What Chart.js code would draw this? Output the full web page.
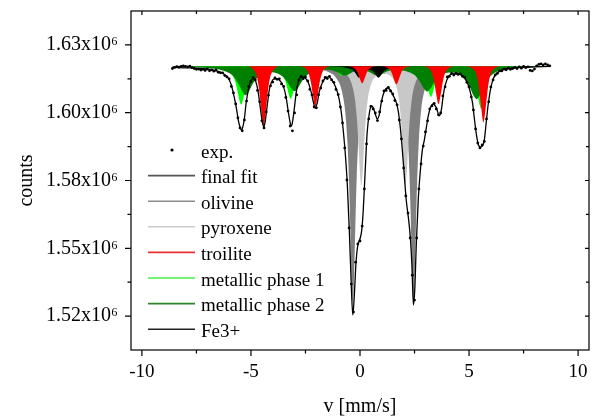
<!DOCTYPE html>
<html>
<head>
<meta charset="utf-8">
<script src="https://cdn.jsdelivr.net/npm/chart.js@4.4.0/dist/chart.umd.min.js"></script>
<style>
html, body { margin: 0; padding: 0; background: #fff; }
</style>
</head>
<body>
<canvas id="myChart" width="598" height="419"></canvas>
<script>
// counts are given in units of 10^6
var baseline = 1.6171;

var velTicks = [-10, -5, 0, 5, 10];
var velMinor = [-7.5, -2.5, 2.5, 7.5];
var countTicks = [1.525, 1.55, 1.575, 1.6, 1.625];
var countTickLabels = ['1.52', '1.55', '1.58', '1.60', '1.63'];
var countMinor = [1.5375, 1.5625, 1.5875, 1.6125];

var expV = [-8.6,-8.5,-8.4,-8.3,-8.2,-8.1,-8.0,-7.9,-7.8,-7.7,
  -7.6,-7.5,-7.4,-7.3,-7.2,-7.1,-7.0,-6.9,-6.8,-6.7,
  -6.6,-6.5,-6.4,-6.3,-6.2,-6.1,-6.0,-5.9,-5.8,-5.7,
  -5.6,-5.5,-5.4,-5.3,-5.2,-5.1,-5.0,-4.9,-4.8,-4.7,
  -4.6,-4.5,-4.4,-4.3,-4.2,-4.1,-4.0,-3.9,-3.8,-3.7,
  -3.6,-3.5,-3.4,-3.3,-3.2,-3.1,-3.0,-2.9,-2.8,-2.7,
  -2.6,-2.5,-2.4,-2.3,-2.2,-2.1,-2.0,-1.9,-1.8,-1.7,
  -1.6,-1.5,-1.4,-1.3,-1.2,-1.1,-1.0,-0.9,-0.8,-0.7,
  -0.6,-0.5,-0.4,-0.3,-0.2,-0.1,0.0,0.1,0.2,0.3,
  0.4,0.5,0.6,0.7,0.8,0.9,1.0,1.1,1.2,1.3,
  1.4,1.5,1.6,1.7,1.8,1.9,2.0,2.1,2.2,2.3,
  2.4,2.5,2.6,2.7,2.8,2.9,3.0,3.1,3.2,3.3,
  3.4,3.5,3.6,3.7,3.8,3.9,4.0,4.1,4.2,4.3,
  4.4,4.5,4.6,4.7,4.8,4.9,5.0,5.1,5.2,5.3,
  5.4,5.5,5.6,5.7,5.8,5.9,6.0,6.1,6.2,6.3,
  6.4,6.5,6.6,6.7,6.8,6.9,7.0,7.1,7.2,7.3,
  7.4,7.5,7.6,7.7,7.8,7.9,8.0,8.1,8.2,8.3,
  8.4,8.5,8.6,8.7];
var expC = [1.6163,1.6167,1.6170,1.6168,1.6171,1.6173,1.6171,1.6169,1.6172,1.6166,
  1.6163,1.6160,1.6161,1.6157,1.6160,1.6156,1.6161,1.6155,1.6158,1.6153,
  1.6157,1.6149,1.6147,1.6147,1.6137,1.6132,1.6125,1.6097,1.6073,1.6032,
  1.5981,1.5944,1.5933,1.5973,1.6043,1.6097,1.6115,1.6130,1.6121,1.6082,
  1.6040,1.5970,1.5944,1.6003,1.6064,1.6099,1.6113,1.6128,1.6123,1.6125,
  1.6106,1.6097,1.6056,1.6006,1.5951,1.5933,1.5999,1.6066,1.6121,1.6134,
  1.6126,1.6132,1.6117,1.6086,1.6066,1.6021,1.6018,1.6066,1.6091,1.6117,
  1.6130,1.6126,1.6134,1.6121,1.6112,1.6086,1.6067,1.6021,1.5962,1.5870,
  1.5752,1.5575,1.5368,1.5265,1.5449,1.5516,1.5527,1.5582,1.5719,1.5885,
  1.5977,1.6023,1.6014,1.5999,1.5971,1.6003,1.6043,1.6080,1.6082,1.6093,
  1.6080,1.6069,1.6045,1.6029,1.5973,1.5903,1.5796,1.5693,1.5630,1.5538,
  1.5401,1.5309,1.5538,1.5719,1.5811,1.5877,1.5929,1.5970,1.6014,1.6025,
  1.6034,1.6014,1.5992,1.5999,1.6062,1.6095,1.6132,1.6134,1.6145,1.6139,
  1.6145,1.6141,1.6143,1.6134,1.6130,1.6112,1.6095,1.6058,1.6010,1.5940,
  1.5888,1.5870,1.5881,1.5894,1.5977,1.6040,1.6095,1.6121,1.6139,1.6145,
  1.6154,1.6154,1.6161,1.6158,1.6165,1.6160,1.6163,1.6167,1.6163,1.6169,
  1.6164,1.6171,1.6166,1.6169,1.6156,1.6154,1.6161,1.6173,1.6178,1.6180,
  1.6176,1.6180,1.6176,1.6173];

var fitV = [-8.61,-7.78,-7.33,-6.87,-6.64,-6.41,-6.18,-6.04,-5.90,-5.77,-5.67,-5.58,-5.49,-5.44,-5.40,-5.31,-5.22,-5.12,-5.03,-4.94,
  -4.85,-4.76,-4.67,-4.57,-4.48,-4.41,-4.35,-4.25,-4.16,-4.07,-3.93,-3.80,-3.66,-3.52,-3.39,-3.30,-3.20,-3.16,-3.11,-3.02,
  -2.92,-2.83,-2.69,-2.51,-2.37,-2.23,-2.14,-2.05,-1.96,-1.87,-1.73,-1.59,-1.45,-1.32,-1.18,-1.04,-0.95,-0.86,-0.77,-0.67,
  -0.58,-0.49,-0.40,-0.33,-0.26,-0.19,-0.12,-0.06,0.01,0.08,0.15,0.24,0.33,0.43,0.52,0.61,0.70,0.79,0.89,0.98,
  1.11,1.25,1.39,1.53,1.67,1.76,1.85,1.94,2.03,2.12,2.22,2.31,2.38,2.45,2.51,2.58,2.67,2.77,2.86,2.95,
  3.04,3.13,3.23,3.36,3.50,3.64,3.73,3.82,3.91,4.05,4.24,4.47,4.70,4.88,5.02,5.16,5.24,5.34,5.43,5.52,
  5.61,5.70,5.79,5.88,5.98,6.11,6.30,6.53,6.89,7.35,8.04,8.73];
var fitC = [1.6167,1.6165,1.6163,1.6160,1.6156,1.6150,1.6139,1.6128,1.6102,1.6058,1.6018,1.5973,1.5944,1.5936,1.5940,1.5973,1.6036,1.6084,1.6113,1.6125,
  1.6125,1.6110,1.6077,1.6018,1.5966,1.5947,1.5966,1.6029,1.6084,1.6110,1.6125,1.6125,1.6117,1.6099,1.6058,1.6010,1.5962,1.5951,1.5959,1.6010,
  1.6077,1.6113,1.6132,1.6128,1.6110,1.6073,1.6040,1.6018,1.6036,1.6077,1.6110,1.6128,1.6132,1.6125,1.6106,1.6077,1.6047,1.6003,1.5936,1.5844,
  1.5733,1.5567,1.5364,1.5254,1.5328,1.5438,1.5501,1.5523,1.5538,1.5567,1.5641,1.5789,1.5929,1.5999,1.6025,1.6018,1.5995,1.5977,1.5995,1.6040,
  1.6077,1.6091,1.6084,1.6062,1.6036,1.6003,1.5944,1.5863,1.5770,1.5678,1.5612,1.5538,1.5438,1.5291,1.5346,1.5512,1.5678,1.5789,1.5863,1.5899,
  1.5944,1.5988,1.6018,1.6032,1.6018,1.5988,1.6010,1.6066,1.6102,1.6132,1.6143,1.6143,1.6136,1.6117,1.6088,1.6036,1.5981,1.5918,1.5881,1.5874,
  1.5877,1.5899,1.5966,1.6032,1.6084,1.6125,1.6147,1.6158,1.6163,1.6167,1.6169,1.6171];

var olivineV = [-8.6,-5,-3,-2,-1.5,-1.1,-0.83,-0.68,-0.58,-0.51,-0.46,-0.42,-0.38,-0.33,-0.28,-0.24,-0.2,-0.15,-0.08,0.02,
  0.17,0.44,0.85,1.25,1.6,1.8,1.95,2.1,2.2,2.27,2.32,2.36,2.4,2.45,2.5,2.54,2.58,2.63,2.7,2.8,
  2.95,3.2,3.55,4.05,5,6.5,8.7];
var olivineC = [1.6170,1.6169,1.6167,1.6161,1.6152,1.6129,1.6079,1.6004,1.5896,1.5763,1.5624,1.5495,1.5375,1.5305,1.5375,1.5495,1.5624,1.5763,1.5895,1.6003,
  1.6077,1.6125,1.6144,1.6144,1.6132,1.6111,1.6078,1.6005,1.5899,1.5767,1.5632,1.5505,1.5386,1.5319,1.5386,1.5505,1.5632,1.5767,1.5899,1.6006,
  1.6079,1.6128,1.6150,1.6160,1.6166,1.6169,1.6170];

var pyroxeneV = [-8.6,-4,-2.5,-1.5,-0.94,-0.64,-0.39,-0.24,-0.14,-0.09,-0.04,0,0.06,0.12,0.16,0.21,0.26,0.36,0.51,0.76,
  1.07,1.38,1.63,1.78,1.88,1.93,1.98,2.02,2.08,2.14,2.18,2.23,2.28,2.38,2.53,2.78,3.08,3.6,4.5,6,8.7];
var pyroxeneC = [1.6171,1.6170,1.6168,1.6164,1.6156,1.6143,1.6109,1.6054,1.5975,1.5912,1.5837,1.5778,1.5733,1.5778,1.5837,1.5912,1.5974,1.6051,1.6105,1.6136,
  1.6144,1.6136,1.6105,1.6051,1.5972,1.5910,1.5835,1.5776,1.5732,1.5776,1.5835,1.5910,1.5973,1.6052,1.6108,1.6142,1.6155,1.6164,1.6168,1.6170,1.6171];

var troiliteV = [-8.6,
  -5.22,-5.02,-4.84,-4.72,-4.62,-4.52,-4.42,-4.32,-4.22,-4.12,-4.0,-3.82,-3.62,
  -2.85,-2.65,-2.47,-2.35,-2.25,-2.15,-2.05,-1.95,-1.85,-1.75,-1.63,-1.45,-1.25,
  -0.7,-0.5,-0.32,-0.2,-0.1,0,0.1,0.2,0.3,0.4,0.52,0.7,
  0.885,
  1.07,1.25,1.37,1.47,1.57,1.67,1.77,1.87,1.97,2.09,2.27,2.47,
  2.8,3.0,3.18,3.3,3.4,3.5,3.6,3.7,3.8,3.9,4.02,4.2,4.4,
  4.86,5.06,5.24,5.36,5.46,5.56,5.66,5.76,5.86,5.96,6.08,6.26,6.46,
  8.7];
var troiliteC = [1.6171,
  1.6171,1.6168,1.6155,1.6131,1.6082,1.6005,1.5950,1.6005,1.6082,1.6131,1.6155,1.6168,1.6171,
  1.6171,1.6169,1.6161,1.6144,1.6112,1.6060,1.6023,1.6060,1.6112,1.6144,1.6161,1.6169,1.6171,
  1.6171,1.6170,1.6167,1.6160,1.6146,1.6124,1.6108,1.6124,1.6146,1.6160,1.6167,1.6170,
  1.6171,
  1.6170,1.6166,1.6159,1.6144,1.6121,1.6105,1.6121,1.6144,1.6159,1.6166,1.6170,1.6171,
  1.6171,1.6169,1.6161,1.6146,1.6115,1.6066,1.6031,1.6066,1.6115,1.6146,1.6161,1.6169,1.6171,
  1.6171,1.6168,1.6157,1.6134,1.6088,1.6016,1.5964,1.6016,1.6088,1.6134,1.6157,1.6168,1.6171,
  1.6171];

var metal1V = [-8.6,-7.0,-6.35,-6.05,-5.85,-5.7,-5.6,-5.53,-5.45,-5.37,-5.3,-5.2,-5.05,-4.85,-4.55,-4.2,-3.78,-3.58,-3.43,-3.33,
  -3.26,-3.18,-3.1,-3.03,-2.93,-2.78,-2.58,-2.1,-1.45,-1.25,-1.1,-1.0,-0.93,-0.85,-0.77,-0.7,-0.6,-0.45,0,0.3,
  0.5,0.65,0.75,0.82,0.9,0.98,1.05,1.15,1.3,1.8,2.35,2.65,2.85,3.0,3.1,3.17,3.25,3.33,3.4,3.5,
  3.65,3.85,4.25,4.65,4.95,5.15,5.3,5.4,5.47,5.55,5.63,5.7,5.8,5.95,6.15,6.45,7.0,8.7];
var metal1C = [1.6170,1.6168,1.6163,1.6154,1.6138,1.6109,1.6074,1.6046,1.6030,1.6046,1.6074,1.6109,1.6137,1.6153,1.6160,1.6161,1.6154,1.6142,1.6118,1.6089,
  1.6065,1.6051,1.6065,1.6089,1.6118,1.6143,1.6156,1.6165,1.6165,1.6162,1.6155,1.6147,1.6140,1.6136,1.6140,1.6147,1.6155,1.6161,1.6167,1.6166,
  1.6163,1.6156,1.6148,1.6141,1.6136,1.6140,1.6147,1.6155,1.6161,1.6167,1.6164,1.6157,1.6145,1.6122,1.6095,1.6072,1.6058,1.6072,1.6094,1.6121,
  1.6143,1.6155,1.6161,1.6160,1.6151,1.6134,1.6102,1.6064,1.6033,1.6015,1.6033,1.6064,1.6102,1.6134,1.6152,1.6162,1.6167,1.6170];

var metal2V = [-8.6,-7.2,-6.5,-6.0,-5.75,-5.55,-5.4,-5.25,-5.1,-4.95,-4.75,-4.5,-4.13,-3.75,-3.5,-3.3,-3.15,-3.0,-2.85,-2.7,
  -2.5,-2.25,-1.85,-1.45,-1.2,-1.0,-0.85,-0.7,-0.55,-0.4,-0.2,0.05,0.3,0.5,0.65,0.8,0.95,1.1,1.3,1.6,
  1.95,2.3,2.55,2.78,2.93,3.08,3.23,3.38,3.6,3.85,4.2,4.6,4.85,5.05,5.2,5.35,5.5,5.65,5.85,6.1,
  6.45,7.0,7.8,8.7];
var metal2C = [1.6169,1.6166,1.6160,1.6146,1.6129,1.6103,1.6078,1.6064,1.6077,1.6101,1.6126,1.6142,1.6149,1.6144,1.6130,1.6109,1.6089,1.6079,1.6090,1.6111,
  1.6133,1.6148,1.6157,1.6158,1.6154,1.6148,1.6141,1.6137,1.6140,1.6147,1.6154,1.6155,1.6154,1.6147,1.6140,1.6137,1.6140,1.6147,1.6154,1.6158,
  1.6156,1.6148,1.6135,1.6110,1.6089,1.6078,1.6089,1.6109,1.6132,1.6144,1.6148,1.6139,1.6120,1.6092,1.6064,1.6050,1.6065,1.6093,1.6123,1.6143,
  1.6156,1.6164,1.6168,1.6169];

var fe3V = [-8.6,-2,-1,-0.6,-0.4,-0.25,-0.15,-0.05,0.05,0.15,0.4,0.65,0.75,0.85,0.95,1.05,1.3,1.6,2.5,8.7];
var fe3C = [1.6171,1.6170,1.6169,1.6165,1.6160,1.6150,1.6138,1.6129,1.6136,1.6148,1.6158,1.6148,1.6136,1.6129,1.6137,1.6149,1.6163,1.6168,1.6170,1.6171];


function pts(xs, ys) {
    return xs.map(function (x, i) { return {x: x, y: ys[i] * 1e6}; });
}

function component(label, xs, ys, color, order) {
    return {
        label: label,
        data: pts(xs, ys),
        showLine: true,
        borderWidth: 0,
        borderColor: color,
        backgroundColor: color,
        pointRadius: 0,
        cubicInterpolationMode: 'monotone',
        fill: {value: baseline * 1e6},
        order: order
    };
}

var dataset = [{
    label: 'exp.',
    data: pts(expV, expC),
    showLine: false,
    pointRadius: 1.4,
    pointBorderWidth: 0,
    pointBackgroundColor: '#000',
    order: 0
}, {
    label: 'final fit',
    data: pts(fitV, fitC),
    showLine: true,
    borderColor: '#000',
    borderWidth: 1.3,
    pointRadius: 0,
    cubicInterpolationMode: 'monotone',
    fill: false,
    order: 1
},
    component('olivine', olivineV, olivineC, '#808080', 7),
    component('pyroxene', pyroxeneV, pyroxeneC, '#c8c8c8', 6),
    component('troilite', troiliteV, troiliteC, '#ff0000', 2),
    component('metallic phase 1', metal1V, metal1C, '#00ff00', 5),
    component('metallic phase 2', metal2V, metal2C, '#008000', 4),
    component('Fe3+', fe3V, fe3C, '#000000', 3)
];

var legendColors = ['#000', '#555555', '#8c8c8c', '#cccccc', '#e83030', '#44ee44', '#2a852a', '#222222'];

var frame = {
    id: 'frame',
    afterDraw: function (chart) {
        var ctx = chart.ctx;
        var a = chart.chartArea;
        var xs = chart.scales.x, ys = chart.scales.y;
        ctx.save();
        ctx.strokeStyle = '#000';
        ctx.lineWidth = 1.2;
        ctx.strokeRect(a.left, a.top, a.right - a.left, a.bottom - a.top);

        ctx.beginPath();
        velTicks.forEach(function (v) {
            var p = xs.getPixelForValue(v);
            ctx.moveTo(p, a.bottom); ctx.lineTo(p, a.bottom + 6);
            ctx.moveTo(p, a.top); ctx.lineTo(p, a.top + 4);
        });
        velMinor.forEach(function (v) {
            var p = xs.getPixelForValue(v);
            ctx.moveTo(p, a.bottom); ctx.lineTo(p, a.bottom + 3.5);
            ctx.moveTo(p, a.top); ctx.lineTo(p, a.top + 3);
        });
        countTicks.forEach(function (c) {
            var p = ys.getPixelForValue(c * 1e6);
            ctx.moveTo(a.left - 6, p); ctx.lineTo(a.left, p);
            ctx.moveTo(a.right - 4, p); ctx.lineTo(a.right, p);
        });
        countMinor.forEach(function (c) {
            var p = ys.getPixelForValue(c * 1e6);
            ctx.moveTo(a.left - 3.5, p); ctx.lineTo(a.left, p);
            ctx.moveTo(a.right - 3, p); ctx.lineTo(a.right, p);
        });
        ctx.stroke();

        // legend
        ctx.font = '19px "Liberation Serif"';
        ctx.textAlign = 'left';
        ctx.textBaseline = 'alphabetic';
        chart.data.datasets.forEach(function (ds, i) {
            var y = 150 + i * 25.6;
            if (i === 0) {
                ctx.fillStyle = '#000';
                ctx.beginPath();
                ctx.arc(172, y, 1.6, 0, Math.PI * 2);
                ctx.fill();
            } else {
                ctx.strokeStyle = legendColors[i];
                ctx.lineWidth = 1.6;
                ctx.beginPath();
                ctx.moveTo(148, y);
                ctx.lineTo(195, y);
                ctx.stroke();
            }
            ctx.fillStyle = '#000';
            ctx.fillText(ds.label, 201, y + 7.5);
        });
        ctx.restore();
    }
};

Chart.defaults.font.family = '"Liberation Serif", "Times New Roman", serif';
Chart.defaults.color = '#000';

var ctx = document.getElementById('myChart');
var myChart = new Chart(ctx, {
    type: 'scatter',
    data: {datasets: dataset},
    options: {
        responsive: false,
        animation: false,
        devicePixelRatio: 1,
        layout: {padding: {top: 11, right: 9, left: 0, bottom: 0}},
        plugins: {legend: {display: false}, tooltip: {enabled: false}},
        scales: {
            x: {
                type: 'linear',
                min: -10.5,
                max: 10.5,
                grid: {display: false},
                border: {display: false},
                afterFit: function (s) { s.height = 69; s.paddingLeft = 0; s.paddingRight = 0; },
                afterBuildTicks: function (s) {
                    s.ticks = velTicks.map(function (v) { return {value: v}; });
                },
                ticks: {
                    padding: 3,
                    font: {size: 19},
                    maxRotation: 0,
                    callback: function (value) { return String(value); }
                },
                title: {display: true, text: 'v [mm/s]', font: {size: 20}, padding: {top: 0, bottom: 0}}
            },
            y: {
                type: 'linear',
                min: 1512500,
                max: 1637500,
                grid: {display: false},
                border: {display: false},
                afterFit: function (s) { s.width = 131; s.paddingTop = 0; s.paddingBottom = 0; },
                afterBuildTicks: function (s) {
                    s.ticks = countTicks.map(function (c) { return {value: c * 1e6}; });
                },
                ticks: {
                    padding: 5,
                    font: {size: 20},
                    callback: function (value, index) { return countTickLabels[index] + 'x10\u2076'; }
                },
                title: {display: true, text: 'counts', font: {size: 20}, padding: {top: 14.5, bottom: 0}}
            }
        }
    },
    plugins: [frame]
});
</script>
</body>
</html>
